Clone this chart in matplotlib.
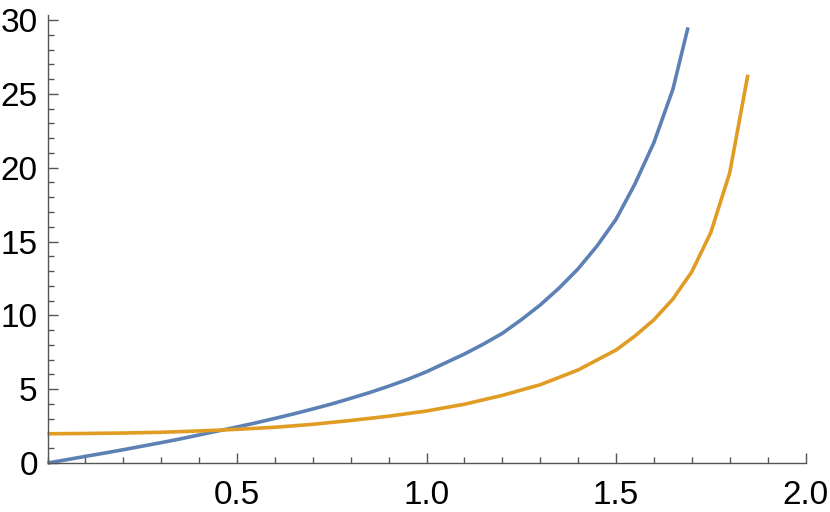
import matplotlib
matplotlib.use("Agg")
import matplotlib.pyplot as plt
from matplotlib.ticker import MultipleLocator, FixedLocator

# blue curve
x_blue = [0.0, 0.05, 0.10, 0.15, 0.20, 0.25, 0.30, 0.35, 0.40, 0.45, 0.50,
          0.55, 0.60, 0.65, 0.70, 0.75, 0.80, 0.85, 0.90, 0.95, 1.00,
          1.05, 1.10, 1.15, 1.20, 1.25, 1.30, 1.35, 1.40, 1.45, 1.50,
          1.55, 1.60, 1.65, 1.69]
y_blue = [0.0, 0.22, 0.45, 0.67, 0.90, 1.14, 1.38, 1.63, 1.90, 2.17, 2.44,
          2.72, 3.02, 3.33, 3.66, 4.00, 4.38, 4.77, 5.20, 5.66, 6.18,
          6.78, 7.38, 8.05, 8.78, 9.70, 10.70, 11.85, 13.15, 14.70, 16.50,
          18.90, 21.70, 25.30, 29.50]

# orange curve
x_orange = [0.0, 0.1, 0.2, 0.3, 0.4, 0.5, 0.6, 0.7, 0.8, 0.9, 1.0,
            1.1, 1.2, 1.3, 1.4, 1.5, 1.55, 1.6, 1.65, 1.70, 1.75, 1.80, 1.848]
y_orange = [1.98, 2.00, 2.03, 2.08, 2.17, 2.28, 2.42, 2.62, 2.88, 3.17, 3.52,
            3.98, 4.58, 5.30, 6.30, 7.65, 8.60, 9.70, 11.10, 12.95, 15.60, 19.65, 26.30]

x_ticks = [0.5, 1.0, 1.5, 2.0]
x_labels = ["0.5", "1.0", "1.5", "2.0"]
y_ticks = [0, 5, 10, 15, 20, 25, 30]

plt.rcParams['font.family'] = ['Liberation Sans', 'DejaVu Sans']

fig = plt.figure(figsize=(8.3, 5.12), dpi=100)
ax = fig.add_axes([47.5 / 830, 49 / 512, 758 / 830, 448 / 512])

ax.plot(x_blue, y_blue, color='#5E81B5', linewidth=2.6, solid_capstyle='butt', clip_on=False)
ax.plot(x_orange, y_orange, color='#E19C24', linewidth=2.6, solid_capstyle='butt', clip_on=False)

ax.set_xlim(0, 2.0)
ax.set_ylim(0, 30.34)

for side in ['top', 'right']:
    ax.spines[side].set_visible(False)
for side in ['left', 'bottom']:
    ax.spines[side].set_color('#555555')
    ax.spines[side].set_linewidth(1.0)

ax.xaxis.set_major_locator(FixedLocator(x_ticks))
ax.set_xticklabels(x_labels)
ax.xaxis.set_minor_locator(MultipleLocator(0.1))
ax.set_yticks(y_ticks)
ax.yaxis.set_minor_locator(MultipleLocator(1))

ax.tick_params(which='both', direction='in', color='#555555', width=1.0, labelsize=24)
ax.tick_params(which='major', length=7)
ax.tick_params(which='minor', length=4)
ax.tick_params(axis='x', pad=12)
ax.tick_params(axis='y', pad=7)

fig.savefig("out.png", dpi=100)
